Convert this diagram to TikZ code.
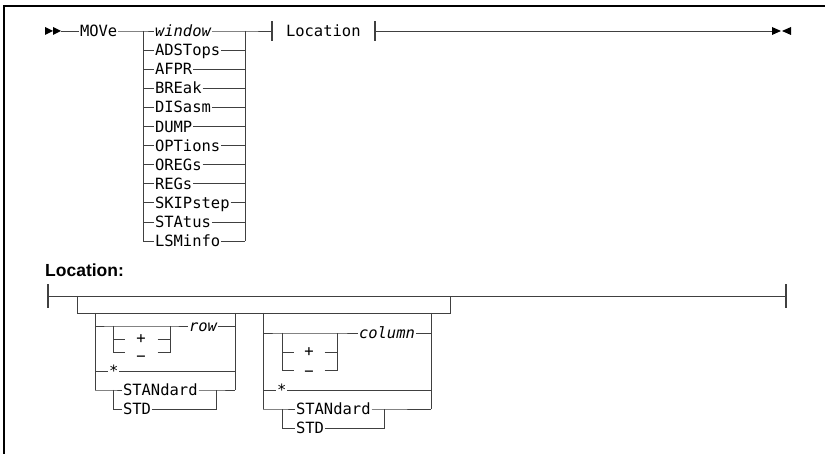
\documentclass[tikz,border=0pt]{standalone}
\usepackage{fontspec}
\newfontfamily\kwfont{DejaVu Sans Mono}
\newfontfamily\hdfont{Liberation Sans}
\begin{document}
\begin{tikzpicture}[x=1pt,y=-1pt,
  ln/.style={draw=black!75, line width=0.9pt},
  tick/.style={draw=black!75, line width=1.1pt},
  tri/.style={fill=black},
  kw/.style={font=\kwfont\fontsize{15.5}{15.5}\selectfont, inner xsep=1pt, inner ysep=0pt, outer sep=0pt, text height=11.2pt, text depth=0pt, anchor=west},
  sg/.style={kw, anchor=center, minimum width=33pt, text height=9pt, text depth=-2.2pt},
  hd/.style={font=\hdfont\bfseries\fontsize{17.5}{17.5}\selectfont, inner sep=0pt, anchor=base west}
]
\useasboundingbox (0,0) rectangle (825,454);
% frame
\draw[line width=2pt] (4,454) -- (4,6) -- (825,6);

% ---------- main diagram ----------
\fill[tri] (45,27) -- (53,31) -- (45,35) -- cycle;
\fill[tri] (53,27) -- (61,31) -- (53,35) -- cycle;
\coordinate (start) at (61,31);
\node[kw] (move) at (79,31) {MOVe};
\coordinate (c1) at (143,31);
\node[kw] (win) at (154,31) {\itshape window};
\coordinate (c2) at (245,31);
\coordinate (t1) at (272,31);
\node[kw] (loc) at (285,31) {Location};
\coordinate (t2) at (375,31);
\coordinate (stop) at (772,31);
\fill[tri] (772,27) -- (781,31) -- (772,35) -- cycle;
\fill[tri] (791,27) -- (782,31) -- (791,35) -- cycle;
\draw[ln] (start) -- (move.west) (move.east) -- (c1) -- (win.west) (win.east) -- (c2) -- (t1);
\draw[ln] (t2) -- (stop);
\draw[tick] ([yshift=-10pt]t1) -- ([yshift=10pt]t1);
\draw[tick] ([yshift=-10pt]t2) -- ([yshift=10pt]t2);

\foreach \lab [count=\k] in {ADSTops,AFPR,BREak,DISasm,DUMP,OPTions,OREGs,REGs,SKIPstep,STAtus,LSMinfo}{
  \coordinate (L\k) at (143,{31+19.1*\k});
  \node[kw] (o\k) at (154,{31+19.1*\k}) {\lab};
  \coordinate (R\k) at (245,{31+19.1*\k});
  \draw[ln] (L\k) -- (o\k.west) (o\k.east) -- (R\k);
}
\draw[ln] (c1) -- (L11);
\draw[ln] (c2) -- (R11);

% ---------- Location fragment ----------
\node[hd] (lochd) at (45,277) {Location:};
\coordinate (s0) at (48,296);
\coordinate (s1) at (77,296);
\coordinate (s2) at (450,296);
\coordinate (s3) at (786,296);
\coordinate (b1) at (77,313);
\coordinate (b2) at (450,313);
\draw[ln] (s0) -- (s3);
\draw[tick] ([yshift=-12pt]s0) -- ([yshift=12pt]s0);
\draw[tick] ([yshift=-12pt]s3) -- ([yshift=12pt]s3);
\draw[ln] (s1) -- (b1) -- (b2) -- (s2);

% row group
\coordinate (ra) at (95,313);
\coordinate (rb) at (235,313);
\coordinate (r1l) at (95,326);
\coordinate (rp1) at (113,326);
\coordinate (rq1) at (170,326);
\node[kw] (row) at (188,326) {\itshape row};
\coordinate (r1r) at (235,326);
\draw[ln] (r1l) -- (rp1) -- (rq1) -- (row.west) (row.east) -- (r1r);
\coordinate (rp2) at (113,339);
\coordinate (rq2) at (170,339);
\node[sg] (rplus) at (141,339) {+};
\coordinate (rp3) at (113,352);
\coordinate (rq3) at (170,352);
\node[sg] (rminus) at (141,357) {−};
\draw[ln] (rp1) -- (rp3) -- (rminus.west |- rp3) (rminus.east |- rq3) -- (rq3) -- (rq1);
\draw[ln] (rp2) -- (rplus.west) (rplus.east) -- (rq2);
\coordinate (rsl) at (95,371);
\node[kw] (rstar) at (108,371) {*};
\coordinate (rsr) at (235,371);
\draw[ln] (rsl) -- (rstar.west) (rstar.east) -- (rsr);
\coordinate (rtl) at (95,390);
\coordinate (rn1) at (113,390);
\node[kw] (rstan) at (122,390) {STANdard};
\coordinate (rn2) at (216,390);
\coordinate (rtr) at (235,390);
\coordinate (rn3) at (113,409);
\node[kw] (rstd) at (122,409) {STD};
\coordinate (rn4) at (216,409);
\draw[ln] (rtl) -- (rn1) -- (rstan.west) (rstan.east) -- (rn2) -- (rtr);
\draw[ln] (rn1) -- (rn3) -- (rstd.west) (rstd.east) -- (rn4) -- (rn2);
\draw[ln] (ra) -- (rtl);
\draw[ln] (rb) -- (rtr);

% column group
\coordinate (ca) at (263,313);
\coordinate (cb) at (431,313);
\coordinate (c1l) at (263,333);
\coordinate (cp1) at (282,333);
\coordinate (cq1) at (337,333);
\node[kw] (col) at (358,333) {\itshape column};
\coordinate (c1r) at (431,333);
\draw[ln] (c1l) -- (cp1) -- (cq1) -- (col.west) (col.east) -- (c1r);
\coordinate (cp2) at (282,352);
\coordinate (cq2) at (337,352);
\node[sg, minimum width=31pt] (cplus) at (309,352) {+};
\coordinate (cp3) at (282,370);
\coordinate (cq3) at (337,370);
\node[sg, minimum width=31pt] (cminus) at (309,372) {−};
\draw[ln] (cp1) -- (cp3) -- (cminus.west |- cp3) (cminus.east |- cq3) -- (cq3) -- (cq1);
\draw[ln] (cp2) -- (cplus.west) (cplus.east) -- (cq2);
\coordinate (csl) at (263,390);
\node[kw] (cstar) at (276,390) {*};
\coordinate (csr) at (431,390);
\draw[ln] (csl) -- (cstar.west) (cstar.east) -- (csr);
\coordinate (ctl) at (263,409);
\coordinate (cn1) at (282,409);
\node[kw] (cstan) at (295,409) {STANdard};
\coordinate (cn2) at (384,409);
\coordinate (ctr) at (431,409);
\coordinate (cn3) at (282,428);
\node[kw] (cstd) at (295,428) {STD};
\coordinate (cn4) at (384,428);
\draw[ln] (ctl) -- (cn1) -- (cstan.west) (cstan.east) -- (cn2) -- (ctr);
\draw[ln] (cn1) -- (cn3) -- (cstd.west) (cstd.east) -- (cn4) -- (cn2);
\draw[ln] (ca) -- (ctl);
\draw[ln] (cb) -- (ctr);
\end{tikzpicture}
\end{document}
